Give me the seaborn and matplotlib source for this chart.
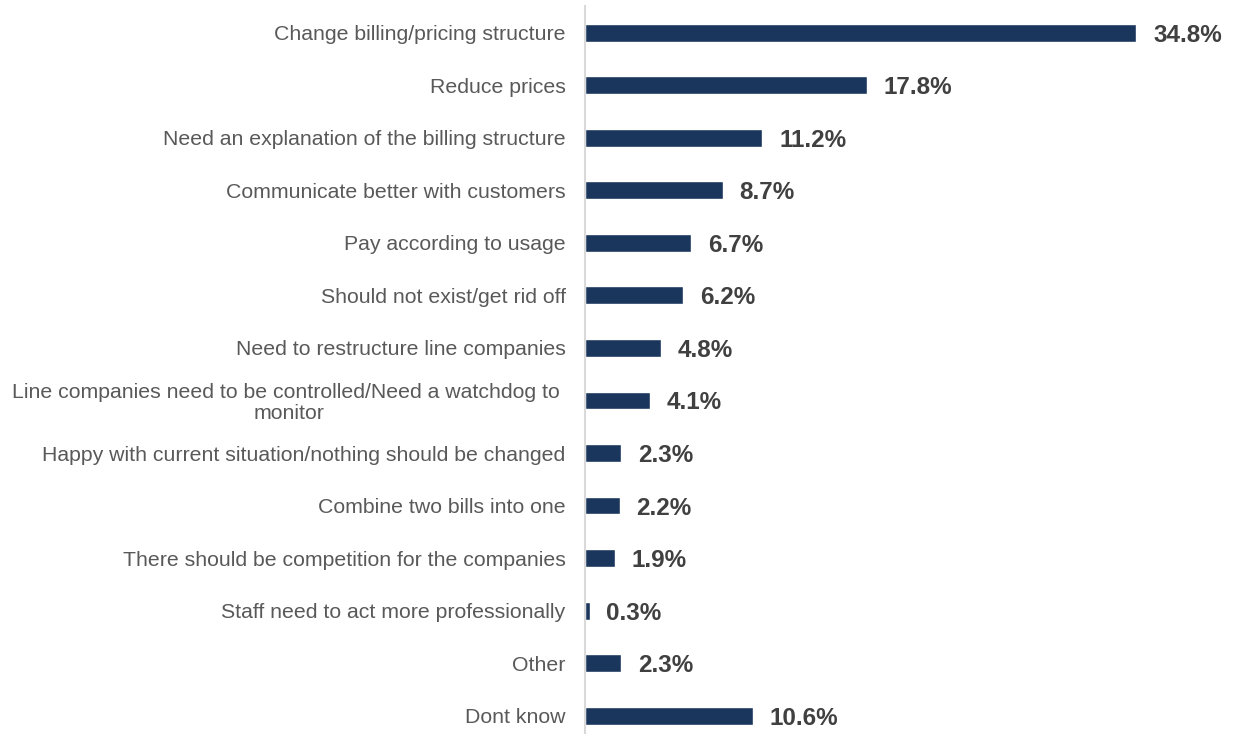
import matplotlib
matplotlib.use("Agg")
import matplotlib.pyplot as plt
import seaborn as sns
import pandas as pd

categories = [
    "Change billing/pricing structure",
    "Reduce prices",
    "Need an explanation of the billing structure",
    "Communicate better with customers",
    "Pay according to usage",
    "Should not exist/get rid off",
    "Need to restructure line companies",
    "Line companies need to be controlled/Need a watchdog to \nmonitor",
    "Happy with current situation/nothing should be changed",
    "Combine two bills into one",
    "There should be competition for the companies",
    "Staff need to act more professionally",
    "Other",
    "Dont know",
]
values = [34.8, 17.8, 11.2, 8.7, 6.7, 6.2, 4.8, 4.1, 2.3, 2.2, 1.9, 0.3, 2.3, 10.6]

df = pd.DataFrame({"category": categories, "value": values})

sns.set_theme(style="white")
plt.rcParams["font.family"] = ["Liberation Sans", "DejaVu Sans"]

W, H = 1233, 734
fig = plt.figure(figsize=(W / 100, H / 100), dpi=100)
ax = fig.add_axes([585 / W, (734 - 742) / H, 648 / W, 735.6 / H])

bar_color = "#1B365D"
sns.barplot(data=df, x="value", y="category", orient="h", color=bar_color,
            width=0.34, ax=ax, saturation=1)

ax.set_xlim(0, 40.9)
ax.set_ylim(13.5, -0.5)
ax.set_xlabel("")
ax.set_ylabel("")
ax.set_xticks([])

for s in ["top", "right", "bottom"]:
    ax.spines[s].set_visible(False)
ax.spines["left"].set_color("#D9D9D9")
ax.spines["left"].set_linewidth(1.5)

ax.tick_params(axis="y", length=0, pad=14, labelsize=15.3, labelcolor="#595959")
for lbl in ax.get_yticklabels():
    lbl.set_multialignment("center")
    lbl.set_linespacing(1.1)

labels = [f"{v:.1f}%" for v in values]
texts = ax.bar_label(ax.containers[0], labels=labels, padding=12, fontsize=17.5,
                     fontweight="bold", color="#404040")
for t in texts:
    t.set_verticalalignment("center_baseline")

fig.savefig("out.png", dpi=100)
